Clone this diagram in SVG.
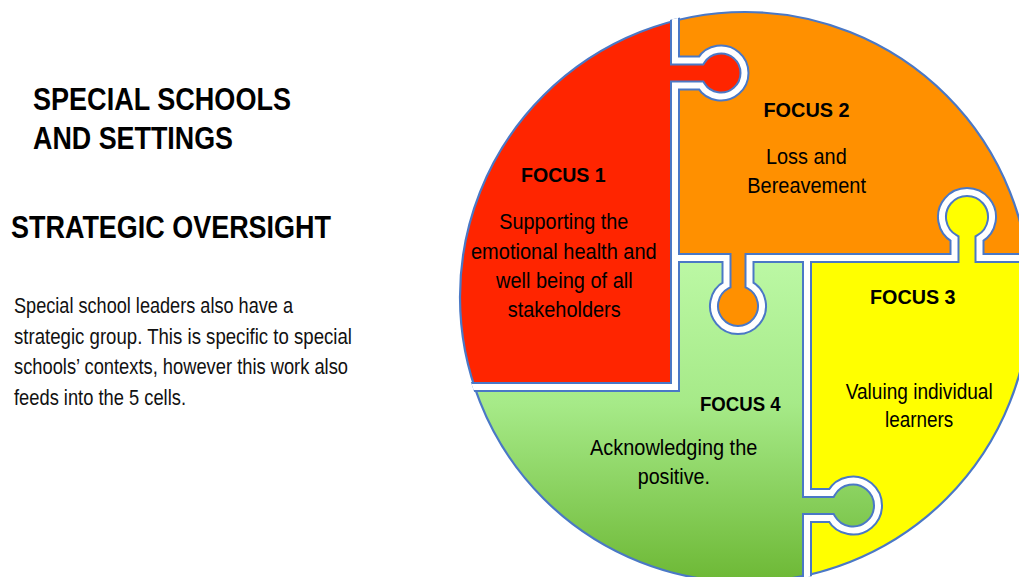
<svg xmlns="http://www.w3.org/2000/svg" width="1019" height="577" viewBox="0 0 1019 577">
  <style>
    .hd { font-family: "Liberation Sans Narrow", "Liberation Sans", Arial, sans-serif; font-weight: bold; font-size: 31.5px; fill: #000; }
    .bd { font-family: "Liberation Sans Narrow", "Liberation Sans", Arial, sans-serif; font-size: 22px; fill: #111; }
    .ft { font-family: "Liberation Sans Narrow", "Liberation Sans", Arial, sans-serif; font-weight: bold; font-size: 21px; fill: #000; }
    .pt { font-family: "Liberation Sans Narrow", "Liberation Sans", Arial, sans-serif; font-size: 22px; fill: #000; }
    .seam { fill: none; stroke-linejoin: miter; stroke-linecap: butt; }
    .seam-edge { stroke: #4A78C6; stroke-width: 10; }
    .seam-gap { stroke: #FFFFFF; stroke-width: 6; }
  </style>
  <defs>
    <linearGradient id="greenFill" gradientUnits="userSpaceOnUse" x1="0" y1="258" x2="0" y2="582">
      <stop offset="0" stop-color="#BCF8A5"/>
      <stop offset="0.45" stop-color="#A6EA88"/>
      <stop offset="1" stop-color="#6DB835"/>
    </linearGradient>
    <clipPath id="disc">
      <circle cx="745" cy="297" r="287"/>
    </clipPath>
    <!-- seam centre-lines, shared by the outline and the white gap -->
    <path id="seamA" d="M 675,8 L 675,60.5 L 701.1,60.5 A 23.5 23.5 0 1 1 701.1,85.5 L 675,85.5 L 675,387 L 460,387"/>
    <path id="seamB" d="M 675,258 L 726.5,258 L 726.5,284.93 A 24 24 0 1 0 749.5,284.93 L 749.5,258 L 954.5,258 L 954.5,238.65 A 25 25 0 1 1 979.5,238.65 L 979.5,258 L 1040,258"/>
    <path id="seamC" d="M 807,258 L 807,493 L 831.35,493 A 25 25 0 1 1 831.35,518 L 807,518 L 807,600"/>
  </defs>

  <rect width="1019" height="577" fill="#FFFFFF"/>

  <!-- left-hand heading and description -->
  <g id="title">
    <text class="hd" x="33" y="109.5" textLength="258" lengthAdjust="spacingAndGlyphs">SPECIAL SCHOOLS</text>
    <text class="hd" x="33" y="148.5" textLength="200" lengthAdjust="spacingAndGlyphs">AND SETTINGS</text>
    <text class="hd" x="11" y="238" textLength="320" lengthAdjust="spacingAndGlyphs">STRATEGIC OVERSIGHT</text>
  </g>
  <g id="intro">
    <text class="bd" x="14" y="313" textLength="279" lengthAdjust="spacingAndGlyphs">Special school leaders also have a</text>
    <text class="bd" x="14" y="343.5" textLength="338" lengthAdjust="spacingAndGlyphs">strategic group. This is specific to special</text>
    <text class="bd" x="14" y="374" textLength="334" lengthAdjust="spacingAndGlyphs">schools’ contexts, however this work also</text>
    <text class="bd" x="14" y="404.5" textLength="172" lengthAdjust="spacingAndGlyphs">feeds into the 5 cells.</text>
  </g>

  <!-- puzzle pieces -->
  <g id="focus-2">
    <path fill="#FF9000" d="M 675,20.73 A 285 285 0 0 1 1027.32,258 L 979.5,258 L 979.5,238.65 A 25 25 0 1 0 954.5,238.65 L 954.5,258 L 749.5,258 L 749.5,284.93 A 24 24 0 1 1 726.5,284.93 L 726.5,258 L 675,258 L 675,85.5 L 701.1,85.5 A 23.5 23.5 0 1 0 701.1,60.5 L 675,60.5 Z"/>
    <text class="ft" x="763.5" y="116.7" textLength="86" lengthAdjust="spacingAndGlyphs">FOCUS 2</text>
    <text class="pt" x="766" y="164" textLength="80.7" lengthAdjust="spacingAndGlyphs">Loss and</text>
    <text class="pt" x="747.3" y="193.3" textLength="118.7" lengthAdjust="spacingAndGlyphs">Bereavement</text>
  </g>
  <g id="focus-1">
    <path fill="#FF2500" d="M 474.58,387 A 285 285 0 0 1 675,20.73 L 675,60.5 L 701.1,60.5 A 23.5 23.5 0 1 1 701.1,85.5 L 675,85.5 L 675,387 Z"/>
    <text class="ft" x="521" y="182.3" textLength="84.7" lengthAdjust="spacingAndGlyphs">FOCUS 1</text>
    <text class="pt" x="499.3" y="229.3" textLength="129" lengthAdjust="spacingAndGlyphs">Supporting the</text>
    <text class="pt" x="471" y="258.5" textLength="185.7" lengthAdjust="spacingAndGlyphs">emotional health and</text>
    <text class="pt" x="496" y="287.7" textLength="136.7" lengthAdjust="spacingAndGlyphs">well being of all</text>
    <text class="pt" x="507.7" y="316.8" textLength="113" lengthAdjust="spacingAndGlyphs">stakeholders</text>
  </g>
  <g id="focus-3">
    <path fill="#FFFF00" d="M 807,258 L 954.5,258 L 954.5,238.65 A 25 25 0 1 1 979.5,238.65 L 979.5,258 L 1027.32,258 A 285 285 0 0 1 807,575.17 L 807,518 L 831.35,518 A 25 25 0 1 0 831.35,493 L 807,493 Z"/>
    <text class="ft" x="870" y="304.3" textLength="85.5" lengthAdjust="spacingAndGlyphs">FOCUS 3</text>
    <text class="pt" x="845.7" y="399" textLength="147" lengthAdjust="spacingAndGlyphs">Valuing individual</text>
    <text class="pt" x="885" y="426.5" textLength="68.3" lengthAdjust="spacingAndGlyphs">learners</text>
  </g>
  <g id="focus-4">
    <path fill="url(#greenFill)" d="M 675,387 L 675,258 L 726.5,258 L 726.5,284.93 A 24 24 0 1 0 749.5,284.93 L 749.5,258 L 807,258 L 807,493 L 831.35,493 A 25 25 0 1 1 831.35,518 L 807,518 L 807,575.17 A 285 285 0 0 1 474.58,387 Z"/>
    <text class="ft" x="700" y="410.7" textLength="80.7" lengthAdjust="spacingAndGlyphs">FOCUS 4</text>
    <text class="pt" x="590" y="455" textLength="167.3" lengthAdjust="spacingAndGlyphs">Acknowledging the</text>
    <text class="pt" x="637.7" y="484" textLength="72.3" lengthAdjust="spacingAndGlyphs">positive.</text>
  </g>

  <!-- outer rim and the white seams between pieces -->
  <g id="puzzle-seams">
    <circle cx="745" cy="297" r="285" fill="none" stroke="#4A78C6" stroke-width="2.2"/>
    <g clip-path="url(#disc)">
      <use href="#seamA" class="seam seam-edge"/>
      <use href="#seamB" class="seam seam-edge"/>
      <use href="#seamC" class="seam seam-edge"/>
      <use href="#seamA" class="seam seam-gap"/>
      <use href="#seamB" class="seam seam-gap"/>
      <use href="#seamC" class="seam seam-gap"/>
    </g>
  </g>
</svg>
